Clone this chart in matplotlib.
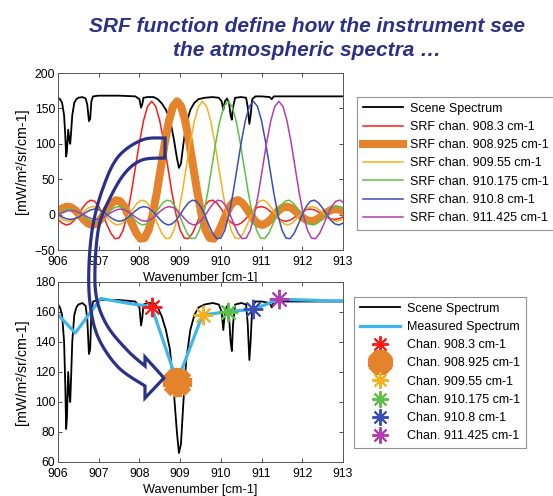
import numpy as np
import matplotlib
matplotlib.use("Agg")
import matplotlib.pyplot as plt
from matplotlib.patches import Polygon

plt.rcParams['font.family'] = ['Liberation Sans', 'DejaVu Sans']
plt.rcParams['xtick.direction'] = 'in'
plt.rcParams['ytick.direction'] = 'in'

# ---------------- data ----------------
channels = [908.3, 908.925, 909.55, 910.175, 910.8, 911.425]
channel_names = ['908.3', '908.925', '909.55', '910.175', '910.8', '911.425']
channel_values = [163.5, 113.5, 158.0, 160.2, 161.8, 168.5]

# SRF profile (symmetric), value vs offset from channel centre, step 0.1 cm-1
srf_offsets_half = np.round(np.arange(0, 5.51, 0.1), 2)
srf_half = [160, 152.8, 132.3, 101.9, 66.2, 30.6, 0, -21.8, -33.1, -34.0,
            -26.5, -13.9, 0, 11.8, 18.9, 20.4, 16.5, 9.0, 0, -8.0,
            -13.2, -14.6, -12.0, -6.6, 0, 6.1, 10.2, 11.3, 9.5, 5.3,
            0, -4.9, -8.3, -9.3, -7.8, -4.4, 0, 4.1, 7.0, 7.8,
            6.6, 3.7, 0, -3.6, -6.0, -6.8, -5.8, -3.3, 0, 3.1,
            5.3, 6.0, 5.1, 2.9, 0, -2.8]

scene_wn = [906.00, 906.05, 906.10, 906.15, 906.18, 906.20, 906.22, 906.25, 906.28, 906.30,
            906.32, 906.35, 906.40, 906.45, 906.50, 906.60, 906.68, 906.72, 906.76, 906.79,
            906.82, 906.86, 907.00, 907.50, 907.90, 908.00, 908.04, 908.07, 908.10, 908.20,
            908.35, 908.45, 908.55, 908.65, 908.75, 908.85, 908.92, 908.97, 909.02, 909.08,
            909.15, 909.25, 909.35, 909.45, 909.60, 909.80, 909.95, 910.02, 910.06, 910.10,
            910.15, 910.20, 910.24, 910.27, 910.30, 910.35, 910.50, 910.62, 910.66, 910.70,
            910.73, 910.77, 910.85, 911.00, 911.20, 911.25, 911.30, 911.60, 912.00, 913.00]
scene_rad = [165, 163, 158, 140, 110, 82, 90, 120, 105, 100,
             115, 140, 158, 163, 165, 166, 164, 155, 132, 135,
             160, 167, 168, 168, 167, 163, 151, 156, 165, 166,
             166, 163, 157, 148, 135, 105, 80, 66, 72, 100,
             128, 148, 158, 163, 165, 166, 165, 160, 148, 160,
             164, 158, 140, 134, 152, 165, 166, 165, 152, 128,
             140, 163, 167, 167, 166, 163, 167, 167, 167, 167]

measured_wn = [905.8, 906.425, 907.05, 907.675, 908.3, 908.925, 909.55, 910.175,
               910.8, 911.425, 912.05, 912.675, 913.3]
measured_rad = [164, 146, 169, 166, 163.5, 113.5, 158, 160.2, 161.8, 168.5, 168, 167.5, 167.5]

srf_colors = ['#FF1A1A', '#E4832B', '#F6B01E', '#5CC046', '#3A4DB8', '#B23DB0']
srf_widths = [1.1, 5.8, 1.1, 1.1, 1.1, 1.1]

# ---------------- figure ----------------
W, H = 553, 496
fig = plt.figure(figsize=(W / 100, H / 100), dpi=100)
fig.patch.set_facecolor('white')

def fbox(l, t, r, b):
    return [l / W, 1 - b / H, (r - l) / W, (b - t) / H]

ax1 = fig.add_axes(fbox(58, 73, 343, 250))
ax2 = fig.add_axes(fbox(58, 282, 343, 462))

fs_tick = 8.8
fs_xlab = 9.2
fs_ylab = 10.3
fs_leg = 9

# top panel
offs = np.r_[-srf_offsets_half[:0:-1], srf_offsets_half]
vals = np.r_[np.array(srf_half[:0:-1]), np.array(srf_half)]
ax1.plot(scene_wn, scene_rad, color='black', lw=1.3, label='Scene Spectrum')
for c, n, col, lw in zip(channels, channel_names, srf_colors, srf_widths):
    ax1.plot(c + offs, vals, color=col, lw=lw, label=f'SRF chan. {n} cm-1',
             solid_joinstyle='round')
ax1.set_xlim(906, 913)
ax1.set_ylim(-50, 200)
ax1.set_yticks([-50, 0, 50, 100, 150, 200])
ax1.set_xticks(range(906, 914))
ax1.set_xlabel('Wavenumber [cm-1]', fontsize=fs_xlab, labelpad=3)
ax1.set_ylabel('[mW/m²/sr/cm-1]', fontsize=fs_ylab, labelpad=4)

# bottom panel
ax2.plot(scene_wn, scene_rad, color='black', lw=1.3, label='Scene Spectrum')
ax2.plot(measured_wn, measured_rad, color='#3FB6EA', lw=2.3, label='Measured Spectrum')
for c, n, v, col in zip(channels, channel_names, channel_values, srf_colors):
    if n == '908.925':
        ax2.plot([c], [v], ls='none', marker=(8, 2, 0), ms=21, mew=6.5, color=col,
                 label=f'Chan. {n} cm-1')
    else:
        ax2.plot([c], [v], ls='none', marker=(8, 2, 0), ms=14, mew=1.4, color=col,
                 label=f'Chan. {n} cm-1')
ax2.set_xlim(906, 913)
ax2.set_ylim(60, 180)
ax2.set_yticks(range(60, 181, 20))
ax2.set_xticks(range(906, 914))
ax2.set_xlabel('Wavenumber [cm-1]', fontsize=fs_xlab, labelpad=3)
ax2.set_ylabel('[mW/m²/sr/cm-1]', fontsize=fs_ylab, labelpad=4)

for ax in (ax1, ax2):
    ax.tick_params(labelsize=fs_tick, top=True, right=True, length=3, width=0.6,
                   colors='#333333', labelcolor='black')
    ax.tick_params(axis='x', pad=4)
    ax.tick_params(axis='y', pad=2)
    for s in ax.spines.values():
        s.set_linewidth(0.7)
        s.set_color('#555555')

leg1 = ax1.legend(loc='upper left', bbox_to_anchor=(357 / W, 1 - 97 / H),
                  bbox_transform=fig.transFigure, fontsize=fs_leg, frameon=True,
                  fancybox=False, handlelength=3.2, labelspacing=0.5,
                  borderpad=0.45, handletextpad=0.6, borderaxespad=0)
leg1.get_frame().set_edgecolor('#777777')
leg1.get_frame().set_linewidth(0.8)

leg2 = ax2.legend(loc='upper left', bbox_to_anchor=(354 / W, 1 - 297 / H),
                  bbox_transform=fig.transFigure, fontsize=fs_leg, frameon=True,
                  fancybox=False, handlelength=3.2, labelspacing=0.5,
                  borderpad=0.45, handletextpad=0.6, borderaxespad=0,
                  markerscale=0.85)
leg2.get_frame().set_edgecolor('#777777')
leg2.get_frame().set_linewidth(0.8)

# title
navy = '#2B3187'
fig.text(307 / W, 1 - 32 / H, 'SRF function define how the instrument see',
         ha='center', va='baseline', fontsize=15, fontweight='bold',
         fontstyle='italic', color=navy)
fig.text(307 / W, 1 - 56 / H, 'the atmospheric spectra \u2026',
         ha='center', va='baseline', fontsize=15, fontweight='bold',
         fontstyle='italic', color=navy)

# curved hollow arrow annotation (figure pixel coordinates, y downwards)
def catmull(pts, n=12):
    pts = np.asarray(pts, float)
    p = np.vstack([pts[0], pts, pts[-1]])
    out = []
    for i in range(1, len(p) - 2):
        p0, p1, p2, p3 = p[i - 1], p[i], p[i + 1], p[i + 2]
        for t in np.linspace(0, 1, n, endpoint=False):
            t2, t3 = t * t, t * t * t
            out.append(0.5 * ((2 * p1) + (-p0 + p2) * t +
                              (2 * p0 - 5 * p1 + 4 * p2 - p3) * t2 +
                              (-p0 + 3 * p1 - 3 * p2 + p3) * t3))
    out.append(p[-2])
    return np.array(out)

outer = [(165, 138), (142, 140), (118, 157), (103, 188), (93, 225), (89, 265),
         (90, 303), (98, 337), (118, 367), (145, 386)]
inner = [(145, 366), (128, 351), (108, 327), (97, 300), (95, 268), (99, 226),
         (110, 198), (125, 173), (142, 160), (165, 158)]
head = [(145, 398), (164, 378), (145, 357)]
outline = np.vstack([catmull(outer), np.array(head), catmull(inner)])
outline_fig = np.column_stack([outline[:, 0] / W, 1 - outline[:, 1] / H])
arrow = Polygon(outline_fig, closed=True, fill=False, edgecolor=navy, lw=2.3,
                transform=fig.transFigure, zorder=10, joinstyle='miter')
fig.add_artist(arrow)

fig.savefig('out.png', dpi=100, facecolor='white')
